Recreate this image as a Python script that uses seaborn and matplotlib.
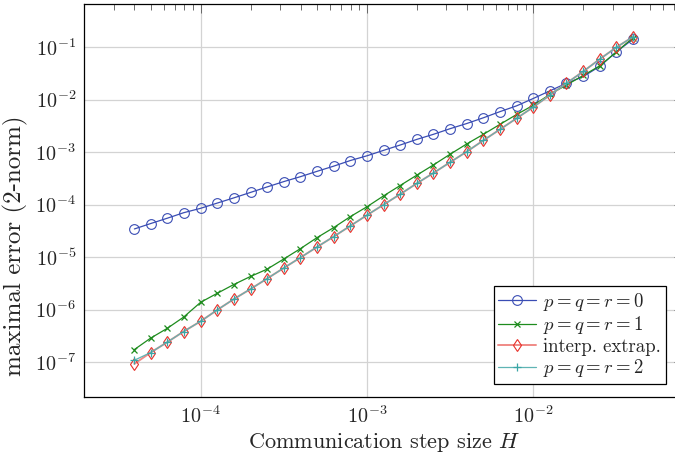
import pandas as pd
import seaborn as sns
import matplotlib.pyplot as plt
from matplotlib.ticker import LogLocator, NullFormatter

# communication step sizes H
step_size = [4.0e-5, 5.0e-5, 6.3e-5, 7.9e-5, 1.0e-4, 1.26e-4, 1.58e-4, 2.0e-4,
             2.51e-4, 3.16e-4, 3.98e-4, 5.01e-4, 6.31e-4, 7.94e-4, 1.0e-3,
             1.26e-3, 1.58e-3, 2.0e-3, 2.51e-3, 3.16e-3, 3.98e-3, 5.01e-3,
             6.31e-3, 7.94e-3, 1.0e-2, 1.26e-2, 1.58e-2, 2.0e-2, 2.51e-2,
             3.16e-2, 3.98e-2]

# maximal error (2-norm) per method
err_p0 = [3.44e-5, 4.35e-5, 5.5e-5, 7.0e-5, 8.5e-5, 1.07e-4, 1.34e-4, 1.71e-4,
          2.17e-4, 2.74e-4, 3.4e-4, 4.3e-4, 5.4e-4, 6.9e-4, 8.5e-4, 1.08e-3,
          1.36e-3, 1.75e-3, 2.18e-3, 2.79e-3, 3.5e-3, 4.5e-3, 5.9e-3, 7.6e-3,
          1.05e-2, 1.47e-2, 2.04e-2, 2.75e-2, 4.3e-2, 8.1e-2, 0.142]
err_p1 = [1.74e-7, 2.86e-7, 4.4e-7, 7.2e-7, 1.38e-6, 2.05e-6, 3.0e-6, 4.3e-6,
          5.9e-6, 9.2e-6, 1.45e-5, 2.35e-5, 3.65e-5, 5.9e-5, 9.1e-5, 1.47e-4,
          2.3e-4, 3.66e-4, 5.7e-4, 9.1e-4, 1.43e-3, 2.18e-3, 3.38e-3, 5.2e-3,
          7.8e-3, 1.26e-2, 1.89e-2, 2.89e-2, 4.4e-2, 8.1e-2, 0.151]
err_interp = [9.3e-8, 1.52e-7, 2.4e-7, 3.83e-7, 6.0e-7, 9.9e-7, 1.58e-6, 2.48e-6,
              3.9e-6, 6.2e-6, 9.8e-6, 1.56e-5, 2.46e-5, 3.93e-5, 6.3e-5, 1.0e-4,
              1.57e-4, 2.55e-4, 4.0e-4, 6.4e-4, 1.02e-3, 1.67e-3, 2.71e-3, 4.4e-3,
              7.2e-3, 1.22e-2, 2.04e-2, 3.45e-2, 5.9e-2, 9.9e-2, 0.157]
err_p2 = [1.09e-7, 1.52e-7, 2.4e-7, 3.83e-7, 6.0e-7, 9.9e-7, 1.58e-6, 2.48e-6,
          3.9e-6, 6.2e-6, 9.8e-6, 1.56e-5, 2.46e-5, 3.93e-5, 6.3e-5, 1.0e-4,
          1.57e-4, 2.55e-4, 4.0e-4, 6.4e-4, 1.02e-3, 1.67e-3, 2.71e-3, 4.4e-3,
          7.2e-3, 1.22e-2, 2.04e-2, 3.45e-2, 5.9e-2, 9.9e-2, 0.157]

sns.set_style("white")
plt.rcParams['font.family'] = ['cmr10', 'DejaVu Serif']
plt.rcParams['mathtext.fontset'] = 'cm'
plt.rcParams['axes.formatter.use_mathtext'] = True
plt.rcParams['axes.unicode_minus'] = False

fig = plt.figure(figsize=(6.75, 4.59), dpi=100)
ax = fig.add_axes([0.1249, 0.1357, 0.887, 0.8556])

df = pd.DataFrame({'H': step_size, 'p0': err_p0, 'p1': err_p1,
                   'interp': err_interp, 'p2': err_p2})

# blue circles
sns.lineplot(data=df, x='H', y='p0', ax=ax, color='#3a4db4', lw=0.9,
             marker='o', ms=7, mfc='none', mec='#3a4db4', mew=0.8,
             label=r'$p=q=r=0$')
# green crosses
sns.lineplot(data=df, x='H', y='p1', ax=ax, color='#1e8c1e', lw=0.9,
             marker='x', ms=4.5, mec='#1e8c1e', mew=0.9,
             label=r'$p=q=r=1$')
# red diamonds
sns.lineplot(data=df, x='H', y='interp', ax=ax, color='#f08a86', lw=1.4,
             marker='d', ms=6, mfc='none', mec='#e8302a', mew=0.8,
             label='interp. extrap.')
# teal plus
sns.lineplot(data=df, x='H', y='p2', ax=ax, color='#5fb4b4', lw=0.9,
             marker='+', ms=6, mec='#3aa6a6', mew=0.9,
             label=r'$p=q=r=2$')

ax.set_xscale('log')
ax.set_yscale('log')
ax.set_xlim(2e-5, 0.0794)
ax.set_ylim(2.2e-8, 0.66)

ax.xaxis.set_major_locator(LogLocator(base=10, numticks=20))
ax.yaxis.set_major_locator(LogLocator(base=10, numticks=20))
ax.xaxis.set_minor_locator(LogLocator(base=10, subs=range(2, 10), numticks=100))
ax.yaxis.set_minor_locator(LogLocator(base=10, subs=range(2, 10), numticks=100))
ax.xaxis.set_minor_formatter(NullFormatter())
ax.yaxis.set_minor_formatter(NullFormatter())

ax.grid(True, which='major', color='#d3d3d3', lw=0.9)
ax.set_axisbelow(True)
ax.tick_params(which='both', direction='in', top=True, right=True,
               labelsize=14.5, color='#555555', width=0.6)
ax.tick_params(which='major', length=6.5, pad=6)
ax.tick_params(which='minor', length=4)
for sp in ax.spines.values():
    sp.set_color('black')
    sp.set_linewidth(0.9)

ax.set_xlabel(r'Communication step size $H$', fontsize=16, labelpad=3)
ax.set_ylabel('maximal error (2-norm)', fontsize=18)
ax.yaxis.set_label_coords(-0.094, 0.385)

leg = ax.legend(loc='lower right', bbox_to_anchor=(0.971, 0.0323),
                borderaxespad=0, fontsize=13.5, frameon=True, fancybox=False,
                framealpha=1, edgecolor='black', labelspacing=0.08,
                handlelength=2.0, handletextpad=0.4, borderpad=0.25)
leg.get_frame().set_linewidth(0.9)

fig.savefig('out.png', dpi=100)
